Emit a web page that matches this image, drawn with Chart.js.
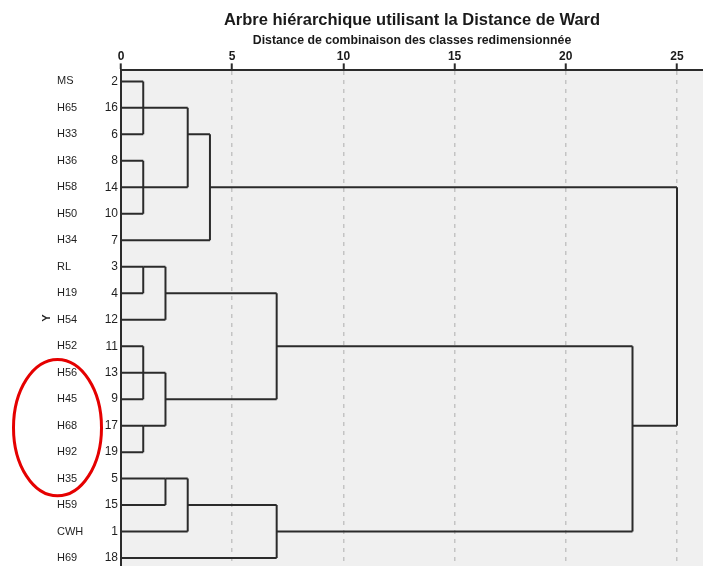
<!DOCTYPE html>
<html>
<head>
<meta charset="utf-8">
<script src="https://cdn.jsdelivr.net/npm/chart.js@4"></script>
<style>
  body { margin: 0; background: #fff; }
  canvas { display: block; }
</style>
</head>
<body>
<canvas id="dendro" width="703" height="566"></canvas>
<script>
// noms des individus (colonne de gauche) et numéros de cas
const caseNames = ["MS", "H65", "H33", "H36", "H58", "H50", "H34", "RL", "H19", "H54",
    "H52", "H56", "H45", "H68", "H92", "H35", "H59", "CWH", "H69"];
const caseNumbers = ["2", "16", "6", "8", "14", "10", "7", "3", "4", "12",
    "11", "13", "9", "17", "19", "5", "15", "1", "18"];

// fusions : enfants (par numéro), distance de fusion, ligne de sortie du groupe
const mergeGroups = [
    ["2", "16", "6"], ["8", "14", "10"], ["16", "14"], ["6", "7"],
    ["3", "4"], ["3", "12"], ["11", "13", "9"], ["17", "19"], ["13", "17"], ["4", "9"],
    ["5", "15"], ["5", "1"], ["15", "18"], ["11", "1"], ["14", "17"]
];
const mergeHeights = [1, 1, 3, 4, 1, 2, 1, 1, 2, 7, 2, 3, 7, 23, 25];
const mergeRows = ["16", "14", "6", "14", "3", "4", "13", "17", "9", "11", "5", "15", "1", "17", null];

const xTicks = [0, 5, 10, 15, 20, 25];

Chart.defaults.font.family = "'Liberation Sans', Arial, sans-serif";
Chart.defaults.color = "#1f1f1f";

const rowOf = n => caseNumbers.indexOf(n);

// on construit les segments du dendrogramme
const datasets = [];
const start = {};
caseNumbers.forEach(n => start[n] = 0);

function seg(points) {
    return {
        data: points,
        borderColor: "#2b2b2b",
        borderWidth: 2,
        pointRadius: 0,
        fill: false,
        tension: 0
    };
}

mergeGroups.forEach((group, i) => {
    const h = mergeHeights[i];
    const rows = group.map(rowOf);
    group.forEach(n => {
        datasets.push(seg([{x: start[n], y: rowOf(n)}, {x: h, y: rowOf(n)}]));
    });
    datasets.push(seg([{x: h, y: Math.min(...rows)}, {x: h, y: Math.max(...rows)}]));
    if (mergeRows[i]) start[mergeRows[i]] = h;
});

const rowTicks = scale => {
    scale.ticks = caseNumbers.map((_, i) => ({value: i}));
};
const noPad = scale => {
    scale.paddingTop = 0;
    scale.paddingBottom = 0;
};

const fondGris = {
    id: "fondGris",
    beforeDraw(chart) {
        const a = chart.chartArea;
        const ctx = chart.ctx;
        ctx.save();
        ctx.fillStyle = "#f0f0f0";
        ctx.fillRect(a.left, a.top, a.right - a.left, a.bottom - a.top);
        ctx.restore();
    }
};

// ellipse rouge autour des individus H56 ... H35
const ellipse = {
    id: "ellipse",
    afterDraw(chart) {
        const y = chart.scales.y;
        const names = chart.scales.names;
        const top = y.getPixelForValue(10.5);
        const bottom = y.getPixelForValue(15.65);
        const cx = names.left + 0.5;
        const ctx = chart.ctx;
        ctx.save();
        ctx.strokeStyle = "#e50000";
        ctx.lineWidth = 3;
        ctx.beginPath();
        ctx.ellipse(cx, (top + bottom) / 2, 44, (bottom - top) / 2, 0, 0, Math.PI * 2);
        ctx.stroke();
        ctx.restore();
    }
};

const rowAxis = {
    type: "linear",
    position: "left",
    reverse: true,
    min: -0.415,
    max: 18.3,
    afterBuildTicks: rowTicks,
    grid: { display: false, drawTicks: false },
    border: { display: false }
};

new Chart(document.getElementById("dendro").getContext("2d"), {
    type: "line",
    data: { datasets: datasets },
    options: {
        responsive: false,
        animation: false,
        layout: { padding: 0 },
        plugins: {
            legend: { display: false },
            tooltip: { enabled: false },
            title: {
                display: true,
                text: "Arbre hiérarchique utilisant la Distance de Ward",
                fullSize: false,
                font: { size: 16.5, weight: "bold" },
                color: "#1a1a1a",
                padding: { top: 11, bottom: 0 }
            }
        },
        scales: {
            x: {
                type: "linear",
                position: "top",
                min: 0,
                max: 26.17,
                afterBuildTicks: s => { s.ticks = xTicks.map(v => ({value: v})); },
                afterFit: s => { s.height = 39.6; },
                ticks: { font: { size: 12, weight: "bold" }, padding: 0, color: "#1a1a1a" },
                grid: {
                    color: ctx => ctx.tick && ctx.tick.value === 0 ? "rgba(0,0,0,0)" : "#c4c4c4",
                    lineWidth: 1.5,
                    tickLength: 7,
                    tickColor: "#2b2b2b",
                    tickWidth: 2
                },
                border: { display: true, color: "#2b2b2b", width: 2, dash: [4, 5] },
                title: {
                    display: true,
                    text: "Distance de combinaison des classes redimensionnée",
                    font: { size: 12.3, weight: "bold" },
                    color: "#1a1a1a",
                    padding: { top: 2.8, bottom: 0 }
                }
            },
            y: {
                ...rowAxis,
                weight: 0,
                afterFit: s => { s.width = 30; noPad(s); },
                ticks: {
                    autoSkip: false,
                    padding: 3,
                    font: { size: 12 },
                    color: "#1f1f1f",
                    callback: v => caseNumbers[v]
                },
                border: { display: true, color: "#2b2b2b", width: 2 }
            },
            names: {
                ...rowAxis,
                weight: 1,
                afterFit: s => { s.width = 34; noPad(s); },
                ticks: {
                    autoSkip: false,
                    padding: 0,
                    crossAlign: "far",
                    font: { size: 11 },
                    color: "#1f1f1f",
                    callback: v => caseNames[v]
                }
            },
            titreY: {
                ...rowAxis,
                weight: 2,
                afterFit: s => { s.width = 57; noPad(s); },
                ticks: { display: false },
                title: {
                    display: true,
                    text: "Y",
                    font: { size: 11, weight: "bold" },
                    color: "#1f1f1f",
                    padding: { top: 40.4, bottom: 0 }
                }
            }
        }
    },
    plugins: [fondGris, ellipse]
});
</script>
</body>
</html>
